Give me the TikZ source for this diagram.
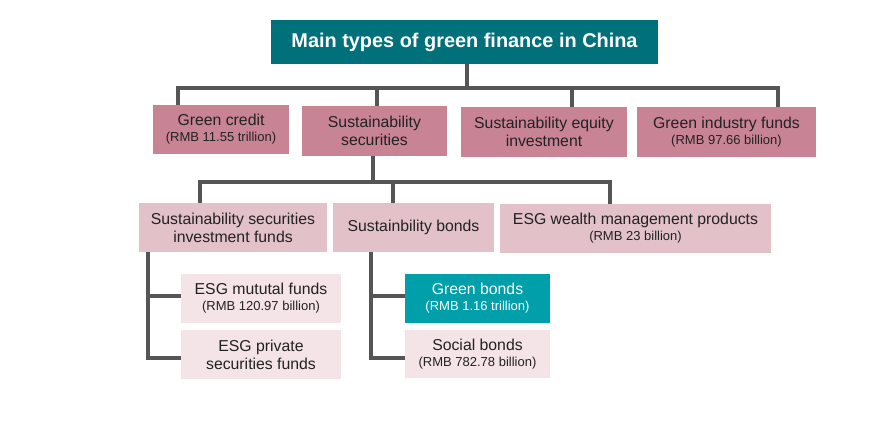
\documentclass[tikz,border=0pt]{standalone}
\usepackage{fontspec}
\setmainfont{Liberation Sans}
\definecolor{titleteal}{HTML}{00707A}
\definecolor{mauve}{HTML}{C88494}
\definecolor{lightpink}{HTML}{E2C1C9}
\definecolor{palepink}{HTML}{F4E3E7}
\definecolor{brightteal}{HTML}{009FAA}
\definecolor{conngray}{HTML}{555555}
\definecolor{txt}{HTML}{222222}
\newcommand{\mainfs}{\fontsize{15.8}{18}\selectfont}
\newcommand{\smallfs}{\fontsize{13}{16}\selectfont}
\tikzset{
  box/.style={rectangle, inner sep=0pt, align=center, text=txt, font=\mainfs},
  lvlone/.style={box, fill=mauve},
  lvltwo/.style={box, fill=lightpink},
  lvlthree/.style={box, fill=palepink},
  conn/.style={draw=conngray, line width=3.3pt},
}
\begin{document}
\begin{tikzpicture}[x=1pt,y=-1pt]
\useasboundingbox (0,0) rectangle (883,427);
\fill[white] (0,0) rectangle (883,427);
% title
\node[box, fill=titleteal, text=white, font=\fontsize{19.9}{22}\selectfont\bfseries,
  minimum width=387pt, minimum height=44pt] (title) at (464.5,42) {Main types of green finance in China};
% level one
\node[lvlone, minimum width=136pt, minimum height=49pt] (gc) at (221,129.5)
  {Green credit\\[-2pt]{\smallfs (RMB 11.55 trillion)}};
\node[lvlone, minimum width=145pt, minimum height=50pt] (ss) at (374.5,131)
  {Sustainability\\securities};
\node[lvlone, minimum width=166pt, minimum height=50pt] (se) at (544,132)
  {Sustainability equity\\investment};
\node[lvlone, minimum width=179pt, minimum height=50pt] (gi) at (726.5,132)
  {Green industry funds\\[-2pt]{\smallfs (RMB 97.66 billion)}};
% level two
\node[lvltwo, minimum width=188pt, minimum height=49pt] (ssif) at (233,227.5)
  {Sustainability securities\\investment funds};
\node[lvltwo, minimum width=161pt, minimum height=49pt] (sb) at (413.5,227.5)
  {Sustainbility bonds};
\node[lvltwo, minimum width=271pt, minimum height=49pt] (esgw) at (635.5,228.5)
  {ESG wealth management products\\[-2pt]{\smallfs (RMB 23 billion)}};
% level three
\node[lvlthree, minimum width=160pt, minimum height=49pt] (em) at (261,298.5)
  {ESG mututal funds\\[-2pt]{\smallfs (RMB 120.97 billion)}};
\node[lvlthree, minimum width=160pt, minimum height=49pt] (ep) at (261,354.5)
  {ESG private\\securities funds};
\node[box, fill=brightteal, text=white, minimum width=145pt, minimum height=49pt] (gb) at (477.5,298.5)
  {Green bonds\\[-2pt]{\smallfs (RMB 1.16 trillion)}};
\node[lvlthree, minimum width=145pt, minimum height=48pt] (sob) at (477.5,354)
  {Social bonds\\[-2pt]{\smallfs (RMB 782.78 billion)}};
% connectors level one
\coordinate (busA) at (467,88);
\draw[conn] (title.south -| busA) -- (busA);
\draw[conn, line join=miter] ([xshift=-43pt]gc.north) |- ([xshift=51.5pt]gi.north |- busA) -- ([xshift=51.5pt]gi.north);
\draw[conn] ([xshift=2.5pt]ss.north) -- ([xshift=2.5pt]ss.north |- busA);
\draw[conn] ([xshift=28pt]se.north) -- ([xshift=28pt]se.north |- busA);
% connectors level two
\coordinate (busB) at (373,182);
\draw[conn] ([xshift=-1.5pt]ss.south) -- ([xshift=-1.5pt]ss.south |- busB);
\draw[conn, line join=miter] ([xshift=-33pt]ssif.north) |- ([xshift=-25.5pt]esgw.north |- busB) -- ([xshift=-25.5pt]esgw.north);
\draw[conn] ([xshift=-20.5pt]sb.north) -- ([xshift=-20.5pt]sb.north |- busB);
% connectors level three
\coordinate (spineL) at ([xshift=-85pt]ssif.south);
\coordinate (spineR) at ([xshift=-42.5pt]sb.south);
\draw[conn, line join=miter] (spineL) |- ([yshift=-3.5pt]ep.west);
\draw[conn] ([yshift=2.5pt]em.west) -- ([yshift=2.5pt]em.west -| spineL);
\draw[conn, line join=miter] (spineR) |- ([yshift=-4pt]sob.west);
\draw[conn] ([yshift=2.5pt]gb.west) -- ([yshift=2.5pt]gb.west -| spineR);
\end{tikzpicture}
\end{document}
